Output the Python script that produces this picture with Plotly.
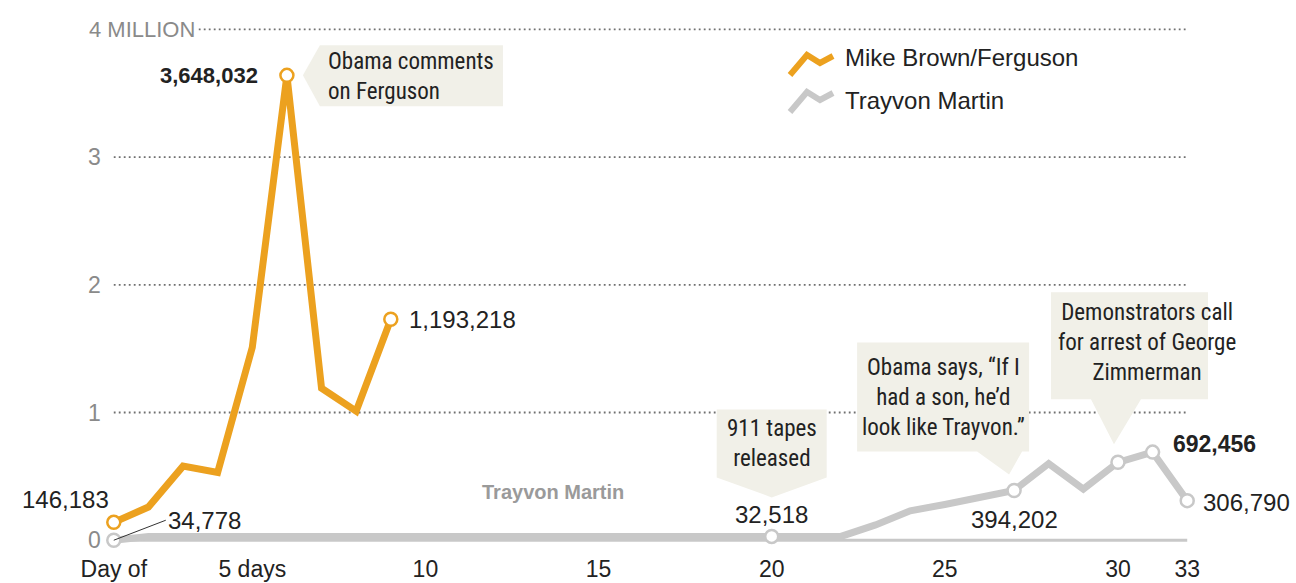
import plotly.graph_objects as go

# ---------------- data (millions of tweets/posts per day) ----------------
day_index = list(range(32))
ferguson = [0.14, 0.26, 0.58, 0.53, 1.51, 3.64, 1.19, 1.01, 1.73]
trayvon = [0.0, 0.03, 0.03, 0.03, 0.03, 0.03, 0.03, 0.03, 0.03, 0.03,
           0.03, 0.03, 0.03, 0.03, 0.03, 0.03, 0.03, 0.03, 0.03, 0.03,
           0.03, 0.03, 0.12, 0.23, 0.28, 0.33, 0.39, 0.60, 0.40, 0.61,
           0.69, 0.31]
ferguson_marked = [0, 5, 8]
trayvon_marked = [0, 19, 26, 29, 30, 31]
x_tick_pos = [0, 4, 9, 14, 19, 24, 29, 31]
x_tick_text = ["Day of", "5 days", "10", "15", "20", "25", "30", "33"]
y_tick_vals = [0, 1, 2, 3]
y_tick_text = ["0", "1", "2", "3"]
series_names = ["Mike Brown/Ferguson", "Trayvon Martin"]

ORANGE = "#eca11f"
GRAY = "#c8c8c8"
BOX = "#f1f0e8"
NARROW = "Liberation Sans Narrow, Arial Narrow, Roboto Condensed, sans-serif"
REG = "Liberation Sans, Arial, sans-serif"

W, H = 1296, 583
ML, MR, MT, MB = 93, 88, 23, 30


def px_paper_x(px):
    return (px - ML) / (W - ML - MR)


def px_paper_y(py):
    return (H - MB - py) / (H - MT - MB)


fig = go.Figure()

# lines
fig.add_trace(go.Scatter(x=day_index[:len(trayvon)], y=trayvon, mode="lines",
                         line=dict(color=GRAY, width=7), hoverinfo="skip",
                         showlegend=False))
fig.add_trace(go.Scatter(x=day_index[:len(ferguson)], y=ferguson, mode="lines",
                         line=dict(color=ORANGE, width=7), hoverinfo="skip",
                         showlegend=False))
# markers
fig.add_trace(go.Scatter(x=[day_index[i] for i in trayvon_marked],
                         y=[trayvon[i] for i in trayvon_marked], mode="markers",
                         marker=dict(size=13, color="white",
                                     line=dict(color=GRAY, width=2.5)),
                         cliponaxis=False, showlegend=False, hoverinfo="skip"))
fig.add_trace(go.Scatter(x=[day_index[i] for i in ferguson_marked],
                         y=[ferguson[i] for i in ferguson_marked], mode="markers",
                         marker=dict(size=13, color="white",
                                     line=dict(color=ORANGE, width=2.5)),
                         cliponaxis=False, showlegend=False, hoverinfo="skip"))

shapes = []
# dotted gridlines
for v in [1, 2, 3, 4]:
    shapes.append(dict(type="line", xref="x", yref="y", x0=0, x1=day_index[-1],
                       y0=v, y1=v, layer="below",
                       line=dict(color="#6f6f6f", width=1.8, dash="1.8px,3.2px")))
# baseline
shapes.append(dict(type="line", xref="x", yref="y", x0=0, x1=day_index[-1],
                   y0=0, y1=0, layer="below", line=dict(color=GRAY, width=3)))


def callout(xi, yv, pts):
    path = "M " + " L ".join(f"{a},{b}" for a, b in pts) + " Z"
    return dict(type="path", xref="x", yref="y", xsizemode="pixel",
                ysizemode="pixel", xanchor=xi, yanchor=yv, path=path,
                fillcolor=BOX, line=dict(width=0), layer="below")


shapes.append(callout(5, ferguson[5],
                      [(16, 0), (33, 30), (216, 30), (216, -31), (33, -31)]))
shapes.append(callout(19, trayvon[19],
                      [(0, 39), (-55, 59), (-55, 127), (55, 127), (55, 59)]))
shapes.append(callout(26, trayvon[26],
                      [(-5, 16), (-37, 39), (-157, 39), (-157, 148), (15, 148),
                       (15, 39), (8, 39)]))
shapes.append(callout(29, trayvon[29],
                      [(-4, 18), (-27, 63), (-67, 63), (-67, 170), (126, 170),
                       (126, 63), (23, 63)]))


# legend zigzags
def zig(px, py, color):
    pts = [(0, 0), (17, 20), (30, 12), (43, 19)]
    path = "M " + " L ".join(f"{a},{b}" for a, b in pts)
    return dict(type="path", xref="paper", yref="paper", xsizemode="pixel",
                ysizemode="pixel", xanchor=px_paper_x(px), yanchor=px_paper_y(py),
                path=path, line=dict(color=color, width=6))


shapes.append(zig(790, 75, ORANGE))
shapes.append(zig(790, 112, GRAY))

ann = []
for v, t in zip(y_tick_vals, y_tick_text):
    ann.append(dict(x=0, y=v, xref="x", yref="y", text=t, showarrow=False,
                    xanchor="right", xshift=-11,
                    font=dict(family=REG, size=23, color="#8a8a8a")))
ann.append(dict(x=0, y=4, xref="x", yref="y", text="4 MILLION", showarrow=False,
                xanchor="left", xshift=-28, bgcolor="white", borderpad=2,
                font=dict(family=REG, size=22, color="#8a8a8a")))


def lab(xi, yv, text, xa="center", xs=0, ys=0, bold=False, size=24,
        color="#222", family=REG):
    if bold:
        text = f"<b>{text}</b>"
    return dict(x=xi, y=yv, xref="x", yref="y", text=text, showarrow=False,
                xanchor=xa, xshift=xs, yshift=ys,
                font=dict(family=family, size=size, color=color))


ann.append(lab(5, ferguson[5], "3,648,032", "right", -27, 0, bold=True, size=22))
ann.append(lab(8, ferguson[8], "1,193,218", "left", 16, 0))
ann.append(lab(0, ferguson[0], "146,183", "right", -3, 23))
ann.append(lab(19, trayvon[19], "32,518", "center", 0, 22))
ann.append(lab(26, trayvon[26], "394,202", "center", 0, -29))
ann.append(lab(30, trayvon[30], "692,456", "left", 18, 8, bold=True, size=23))
ann.append(lab(31, trayvon[31], "306,790", "left", 14, -2))
ann.append(lab(13, trayvon[13], series_names[1], "center", -11, 44, bold=True,
               size=20, color="#9a9a9a"))
# leader label 34,778
ann.append(dict(x=0, y=trayvon[0], xref="x", yref="y", text="34,778",
                showarrow=True, arrowhead=0, arrowwidth=1, arrowcolor="#333",
                ax=52, ay=-20, xanchor="left",
                font=dict(family=REG, size=24, color="#222")))

# callout texts
ann.append(lab(5, ferguson[5], "Obama comments<br>on Ferguson", "left", 39, -1,
               size=23, family=NARROW))
ann[-1]["align"] = "left"
ann.append(lab(19, trayvon[19], "911 tapes<br>released", "center", 0, 93,
               size=23, family=NARROW))
ann.append(lab(26, trayvon[26], "Obama says, “If I<br>had a son, he’d<br>look like Trayvon.”",
               "center", -71, 93, size=23, family=NARROW))
ann.append(lab(29, trayvon[29], "Demonstrators call<br>for arrest of George<br>Zimmerman",
               "center", 29, 120, size=23, family=NARROW))

# legend texts
for name, py in zip(series_names, [58, 101]):
    ann.append(dict(x=px_paper_x(843), y=px_paper_y(py), xref="paper", yref="paper",
                    text=name, showarrow=False, xanchor="left", yanchor="middle",
                    font=dict(family=REG, size=24, color="#222")))

fig.update_layout(
    width=W, height=H,
    margin=dict(l=ML, r=MR, t=MT, b=MB, pad=0, autoexpand=False),
    paper_bgcolor="white", plot_bgcolor="white",
    shapes=shapes, annotations=ann,
    showlegend=False,
    xaxis=dict(range=[-0.6, 31.6], tickvals=x_tick_pos, ticktext=x_tick_text,
               showgrid=False, zeroline=False, showline=False, ticks="",
               automargin=False,
               tickfont=dict(family=REG, size=23, color="#222"),
               fixedrange=True),
    yaxis=dict(range=[-0.1, 4.05], showgrid=False, zeroline=False,
               showticklabels=False, showline=False, fixedrange=True,
               automargin=False),
)

fig.write_html("out.html")
